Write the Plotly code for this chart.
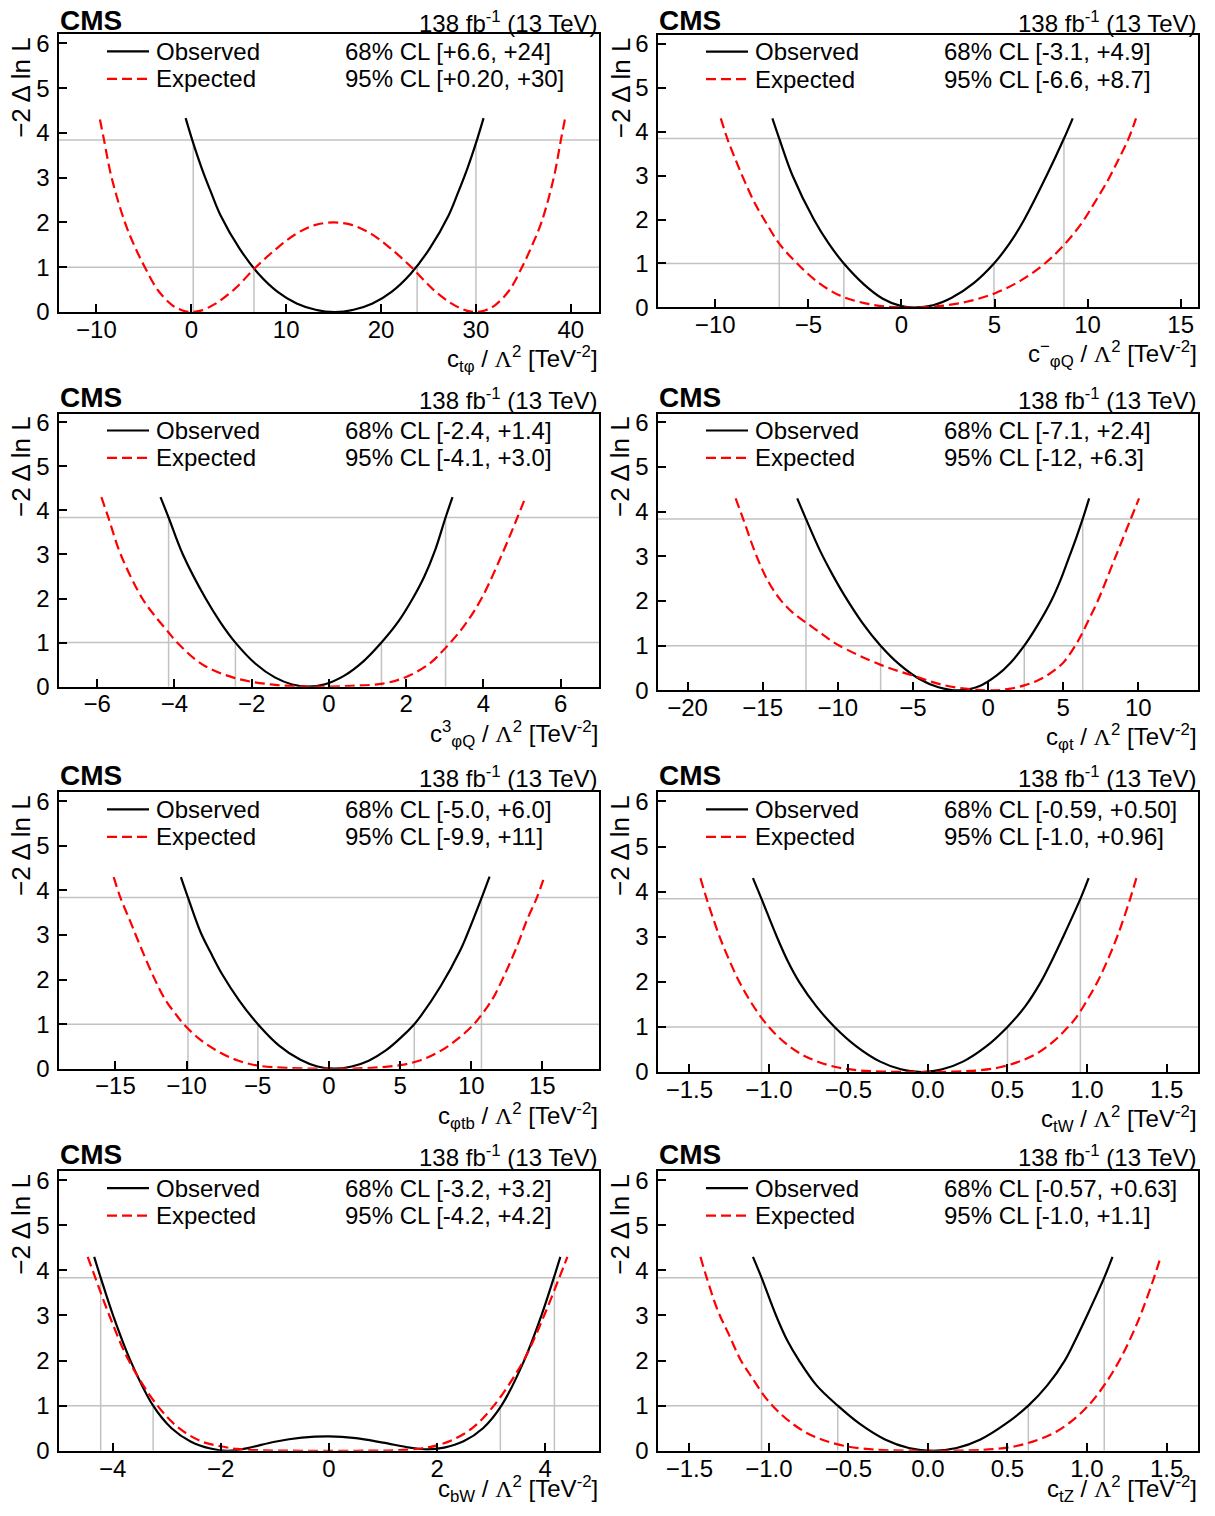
import plotly.graph_objects as go

FIG_W, FIG_H = 1215, 1516

# ---------------- data ----------------
# Panel 1: c_tphi
ctp_obs_x = [-0.6, 0.1, 1.1, 2.1, 3.1, 5.1, 7.1, 9.1, 11.1, 13.1, 15.1,
             17.1, 19.1, 21.1, 23.1, 25.1, 27.1, 28.1, 29.1, 30.1, 30.8]
ctp_obs_y = [4.33, 3.84, 3.21, 2.66, 2.15, 1.41, 0.85, 0.45, 0.19, 0.05, 0.0,
             0.05, 0.19, 0.45, 0.85, 1.41, 2.15, 2.66, 3.21, 3.84, 4.33]
ctp_exp_x = [-9.63, -9.2, -8.4, -7.0, -6.0, -4.9, -3.5, -2.0, -1.0, 0.0, 1.0, 2.5, 4.5, 6.8,
             9.0, 11.0, 13.0, 15.0, 17.0, 19.0, 21.0, 23.2, 25.5, 27.5, 29.0, 30.0, 31.0,
             32.0, 33.5, 34.85, 35.9, 36.9, 38.2, 38.95, 39.37]
ctp_exp_y = [4.3, 3.84, 3.0, 2.0, 1.48, 1.0, 0.48, 0.15, 0.04, 0.0, 0.03, 0.18, 0.5, 1.0,
             1.42, 1.74, 1.94, 2.0, 1.94, 1.74, 1.42, 1.0, 0.5, 0.18, 0.03, 0.0, 0.04,
             0.15, 0.48, 1.0, 1.48, 2.0, 3.0, 3.84, 4.3]
ctp_cl68 = [6.6, 23.8]
ctp_cl95 = [0.2, 30.0]

# Panel 2: c^-_phiQ
cmq_obs_x = [-6.93, -6.56, -5.85, -4.7, -3.9, -3.09, -2.0, -1.0, 0.0, 0.7,
             1.7, 2.7, 3.9, 4.97, 5.8, 6.6, 7.8, 8.73, 9.2]
cmq_obs_y = [4.3, 3.84, 3.0, 2.0, 1.45, 1.0, 0.52, 0.2, 0.03, 0.0,
             0.05, 0.22, 0.56, 1.0, 1.45, 2.0, 3.0, 3.84, 4.3]
cmq_exp_x = [-9.7, -9.35, -8.9, -8.4, -7.85, -7.3, -6.56, -5.6, -4.5, -3.3, -2.0, -0.8, 0.6,
             2.0, 3.5, 5.0, 6.4, 7.7, 8.73, 9.7, 10.4, 11.1, 11.7, 12.2, 12.6]
cmq_exp_y = [4.3, 3.84, 3.35, 2.85, 2.35, 1.95, 1.45, 1.0, 0.58, 0.27, 0.1, 0.02, 0.0,
             0.03, 0.13, 0.32, 0.61, 1.0, 1.42, 1.93, 2.4, 2.9, 3.4, 3.84, 4.3]
cmq_cl68 = [-3.09, 4.97]
cmq_cl95 = [-6.56, 8.73]

# Panel 3: c^3_phiQ
c3q_obs_x = [-4.36, -4.15, -3.78, -3.19, -2.8, -2.42, -1.9, -1.4, -0.95, -0.55,
             -0.1, 0.4, 0.9, 1.36, 1.8, 2.17, 2.47, 2.75, 3.02, 3.2]
c3q_obs_y = [4.3, 3.84, 3.0, 2.0, 1.45, 1.0, 0.52, 0.21, 0.05, 0.0,
             0.055, 0.25, 0.58, 1.0, 1.48, 2.0, 2.5, 3.1, 3.84, 4.3]
c3q_exp_x = [-5.89, -5.71, -5.39, -4.83, -4.5, -4.15, -3.93, -3.27, -2.45, -1.5, -0.45,
             0.6, 1.4, 2.0, 2.6, 3.02, 3.5, 3.95, 4.48, 4.88, 5.09]
c3q_exp_y = [4.3, 3.84, 3.0, 2.0, 1.6, 1.23, 1.0, 0.5, 0.2, 0.05, 0.0,
             0.02, 0.07, 0.22, 0.52, 0.88, 1.38, 2.0, 3.0, 3.84, 4.3]
c3q_cl68 = [-2.42, 1.36]
c3q_cl95 = [-4.15, 3.02]

# Panel 4: c_phit
cpt_obs_x = [-12.7, -12.12, -11.2, -10.4, -9.6, -8.4, -7.15, -5.9, -4.6, -3.3, -1.9,
             -0.6, 0.6, 1.5, 2.41, 3.3, 4.2, 4.8, 5.36, 5.85, 6.3, 6.73]
cpt_obs_y = [4.3, 3.84, 3.14, 2.62, 2.15, 1.53, 1.0, 0.58, 0.26, 0.07, 0.0,
             0.09, 0.34, 0.62, 1.0, 1.46, 2.0, 2.45, 2.95, 3.4, 3.84, 4.3]
cpt_exp_x = [-16.8, -16.3, -15.4, -14.6, -13.8, -13.0, -12.12, -11.0, -10.05, -7.15, -5.0,
             -3.0, -1.0, 0.5, 1.5, 2.41, 3.3, 4.0, 5.0, 5.8, 6.3, 6.8, 7.3, 8.4, 9.5, 10.05]
cpt_exp_y = [4.3, 3.84, 3.0, 2.42, 2.02, 1.74, 1.52, 1.25, 1.03, 0.57, 0.33,
             0.12, 0.02, 0.0, 0.04, 0.11, 0.22, 0.35, 0.62, 1.0, 1.3, 1.65, 2.0, 2.92, 3.84, 4.3]
cpt_cl68 = [-7.15, 2.41]
cpt_cl95 = [-12.12, 6.3]

# Panel 5: c_phitb
ctb_obs_x = [-10.4, -9.9, -9.0, -8.3, -7.5, -6.3, -4.99, -3.5, -2.0, -0.8, 0.4,
             1.6, 2.8, 4.0, 5.0, 6.0, 6.45, 7.85, 9.25, 9.7, 10.75, 11.29]
ctb_obs_y = [4.3, 3.84, 3.05, 2.6, 2.12, 1.53, 1.0, 0.52, 0.2, 0.05, 0.0,
             0.05, 0.18, 0.41, 0.68, 1.0, 1.18, 1.85, 2.67, 3.0, 3.85, 4.31]
ctb_exp_x = [-15.12, -14.65, -13.95, -13.25, -12.3, -11.5, -10.75, -10.2, -9.15, -7.85,
             -6.45, -5.0, -3.0, 0.0, 3.0, 5.0, 6.45, 7.85, 9.14, 10.19, 10.75, 11.47,
             12.29, 13.22, 13.92, 14.63, 15.14]
ctb_exp_y = [4.3, 3.84, 3.3, 2.75, 2.05, 1.55, 1.22, 1.0, 0.68, 0.4,
             0.19, 0.07, 0.02, 0.0, 0.02, 0.08, 0.19, 0.4, 0.69, 1.0, 1.22, 1.55,
             2.07, 2.75, 3.34, 3.85, 4.31]
ctb_cl68 = [-4.99, 6.0]
ctb_cl95 = [-9.9, 10.72]

# Panel 6: c_tW
ctw_obs_x = [-1.10, -1.046, -0.95, -0.88, -0.81, -0.70, -0.587, -0.45, -0.3, -0.17, -0.04,
             0.09, 0.22, 0.36, 0.50, 0.61, 0.71, 0.78, 0.85, 0.958, 1.01]
ctw_obs_y = [4.3, 3.84, 3.0, 2.45, 2.0, 1.45, 1.0, 0.57, 0.23, 0.06, 0.0,
             0.06, 0.23, 0.55, 1.0, 1.45, 2.0, 2.48, 3.0, 3.84, 4.3]
ctw_exp_x = [-1.43, -1.39, -1.32, -1.26, -1.19, -1.12, -1.046, -0.98, -0.9, -0.8, -0.7,
             -0.58, -0.45, -0.3, -0.06, 0.18, 0.33, 0.46, 0.58, 0.68, 0.78, 0.86, 0.93,
             1.0, 1.07, 1.14, 1.2, 1.27, 1.31]
ctw_exp_y = [4.3, 3.83, 3.1, 2.57, 2.03, 1.59, 1.2, 0.92, 0.65, 0.4, 0.24,
             0.11, 0.04, 0.01, 0.0, 0.01, 0.04, 0.11, 0.24, 0.4, 0.65, 0.92, 1.2,
             1.59, 2.03, 2.57, 3.1, 3.83, 4.3]
ctw_cl68 = [-0.587, 0.50]
ctw_cl95 = [-1.046, 0.958]

# Panel 7: c_bW
cbw_obs_x = [-4.34, -4.22, -3.99, -3.67, -3.25, -2.91, -2.55, -2.19, -1.87, -1.5, -1.0, -0.5,
             0.0, 0.5, 1.0, 1.5, 1.81, 2.13, 2.49, 2.85, 3.19, 3.61, 3.93, 4.16, 4.28]
cbw_obs_y = [4.3, 3.84, 3.0, 2.0, 1.0, 0.5, 0.2, 0.05, 0.0, 0.06, 0.2, 0.29,
             0.32, 0.28, 0.18, 0.07, 0.03, 0.07, 0.21, 0.5, 1.0, 2.0, 3.0, 3.84, 4.3]
cbw_exp_x = [-4.46, -4.32, -4.06, -3.7, -3.17, -2.77, -2.34, -2.0, -1.7, -1.2, -0.5,
             0.5, 1.2, 1.7, 2.0, 2.3, 2.65, 3.05, 3.6, 3.98, 4.26, 4.41]
cbw_exp_y = [4.3, 3.84, 3.0, 2.0, 1.0, 0.5, 0.2, 0.1, 0.04, 0.01, 0.0,
             0.0, 0.01, 0.05, 0.12, 0.25, 0.5, 1.0, 2.0, 3.0, 3.84, 4.3]
cbw_cl68 = [-3.25, 3.17]
cbw_cl95 = [-4.22, 4.17]

# Panel 8: c_tZ
ctz_obs_x = [-1.10, -1.046, -0.955, -0.885, -0.81, -0.70, -0.567, -0.43, -0.27, -0.12, 0.03,
             0.18, 0.33, 0.49, 0.631, 0.75, 0.86, 0.93, 1.0, 1.108, 1.16]
ctz_obs_y = [4.3, 3.84, 3.0, 2.45, 2.0, 1.45, 1.0, 0.6, 0.25, 0.06, 0.0,
             0.06, 0.25, 0.6, 1.0, 1.45, 2.0, 2.48, 3.0, 3.84, 4.3]
ctz_exp_x = [-1.43, -1.39, -1.32, -1.25, -1.18, -1.10, -1.026, -0.956, -0.87, -0.765, -0.66,
             -0.53, -0.39, -0.235, 0.02, 0.265, 0.424, 0.562, 0.689, 0.795, 0.901, 0.986,
             1.056, 1.134, 1.208, 1.283, 1.346, 1.42, 1.463]
ctz_exp_y = [4.3, 3.83, 3.1, 2.57, 2.03, 1.59, 1.2, 0.92, 0.65, 0.4, 0.24,
             0.11, 0.04, 0.01, 0.0, 0.01, 0.04, 0.11, 0.24, 0.4, 0.65, 0.92,
             1.2, 1.59, 2.03, 2.57, 3.1, 3.83, 4.3]
ctz_cl68 = [-0.567, 0.631]
ctz_cl95 = [-1.046, 1.108]

# texts
cl68_texts = ["68% CL [+6.6, +24]", "68% CL [-3.1, +4.9]", "68% CL [-2.4, +1.4]", "68% CL [-7.1, +2.4]",
              "68% CL [-5.0, +6.0]", "68% CL [-0.59, +0.50]", "68% CL [-3.2, +3.2]", "68% CL [-0.57, +0.63]"]
cl95_texts = ["95% CL [+0.20, +30]", "95% CL [-6.6, +8.7]", "95% CL [-4.1, +3.0]", "95% CL [-12, +6.3]",
              "95% CL [-9.9, +11]", "95% CL [-1.0, +0.96]", "95% CL [-4.2, +4.2]", "95% CL [-1.0, +1.1]"]
LAM = '<span style="font-family:Liberation Serif">Λ</span>'
UNIT = " / " + LAM + "<sup>2</sup> [TeV<sup>-2</sup>]"
x_titles = [
    "c<sub>tφ</sub>" + UNIT,
    "c<sup>−</sup><sub>φQ</sub>" + UNIT,
    "c<sup>3</sup><sub>φQ</sub>" + UNIT,
    "c<sub>φt</sub>" + UNIT,
    "c<sub>φtb</sub>" + UNIT,
    "c<sub>tW</sub>" + UNIT,
    "c<sub>bW</sub>" + UNIT,
    "c<sub>tZ</sub>" + UNIT,
]
x_ranges = [[-14.0, 43.0], [-13.1, 15.95], [-7.0, 7.0], [-22.0, 14.0],
            [-19.0, 19.0], [-1.7, 1.7], [-5.0, 5.0], [-1.7, 1.7]]
x_tickvals = [[-10, 0, 10, 20, 30, 40], [-10, -5, 0, 5, 10, 15], [-6, -4, -2, 0, 2, 4, 6],
              [-20, -15, -10, -5, 0, 5, 10], [-15, -10, -5, 0, 5, 10, 15],
              [-1.5, -1.0, -0.5, 0.0, 0.5, 1.0, 1.5], [-4, -2, 0, 2, 4],
              [-1.5, -1.0, -0.5, 0.0, 0.5, 1.0, 1.5]]
x_tickformats = ["d", "d", "d", "d", "d", ".1f", "d", ".1f"]
y_tickvals = [0, 1, 2, 3, 4, 5, 6]
y_range = [0, 6.2]
cl_levels = [1.0, 3.84]   # 68% and 95% CL thresholds of -2 Delta ln L

lumi_text = "138 fb<sup>-1</sup> (13 TeV)"
y_title = "−2 Δ ln L"

obs_x = [ctp_obs_x, cmq_obs_x, c3q_obs_x, cpt_obs_x, ctb_obs_x, ctw_obs_x, cbw_obs_x, ctz_obs_x]
obs_y = [ctp_obs_y, cmq_obs_y, c3q_obs_y, cpt_obs_y, ctb_obs_y, ctw_obs_y, cbw_obs_y, ctz_obs_y]
exp_x = [ctp_exp_x, cmq_exp_x, c3q_exp_x, cpt_exp_x, ctb_exp_x, ctw_exp_x, cbw_exp_x, ctz_exp_x]
exp_y = [ctp_exp_y, cmq_exp_y, c3q_exp_y, cpt_exp_y, ctb_exp_y, ctw_exp_y, cbw_exp_y, ctz_exp_y]
cl68 = [ctp_cl68, cmq_cl68, c3q_cl68, cpt_cl68, ctb_cl68, ctw_cl68, cbw_cl68, ctz_cl68]
cl95 = [ctp_cl95, cmq_cl95, c3q_cl95, cpt_cl95, ctb_cl95, ctw_cl95, cbw_cl95, ctz_cl95]

# ---------------- layout geometry (target picture pixels) ----------------
col_px = [(58.5, 599.3), (657.5, 1198.4)]
panel_rows_px = [(33.0, 311.0), (33.3, 306.5), (412.7, 686.3), (412.7, 690.0),
                 (792.3, 1069.0), (792.3, 1072.3), (1171.7, 1451.7), (1171.7, 1451.7)]

# measured vertical placement of the page in the photograph (picture_y = off + scale * page_y)
SHOT_OFF_Y, SHOT_SCALE_Y = 3.5, 0.9898


def page_y(py):
    return (py - SHOT_OFF_Y) / SHOT_SCALE_Y


def px2x(px):
    return px / FIG_W


def py2paper(p):
    return 1.0 - p / FIG_H


def px2y(py):
    return py2paper(page_y(py))


FONT = "Liberation Sans"
GRAY = "#c2c2c2"
RED = "#ff0000"
DASH = "10px,5px"

fig = go.Figure()
annotations = []
shapes = []
layout = dict(
    width=FIG_W, height=FIG_H, autosize=False,
    margin=dict(l=0, r=0, t=0, b=0),
    paper_bgcolor="white", plot_bgcolor="white",
    showlegend=False,
    font=dict(family=FONT, color="black", size=24),
)


def ann(text, xpx, ypx, xanchor="left", yanchor="middle", size=24, pmin=0.0, pmax=FIG_H, **kw):
    p = min(max(page_y(ypx), pmin), pmax)
    d = dict(text=text, xref="paper", yref="paper", x=px2x(xpx), y=py2paper(p),
             xanchor=xanchor, yanchor=yanchor, showarrow=False,
             font=dict(family=FONT, size=size, color="black"))
    d.update(kw)
    annotations.append(d)


for i in range(8):
    n = i + 1
    sx = "" if n == 1 else str(n)
    xa, ya = "x" + sx, "y" + sx
    left, right = col_px[i % 2]
    top, bottom = panel_rows_px[i]

    layout["xaxis" + sx] = dict(
        domain=[px2x(left), px2x(right)], range=x_ranges[i], anchor=ya,
        showline=True, linecolor="black", linewidth=2, mirror=True,
        ticks="inside", ticklen=8, tickwidth=2, tickcolor="black",
        tickvals=x_tickvals[i], tickformat=x_tickformats[i],
        showgrid=False, zeroline=False,
        tickfont=dict(family=FONT, size=24, color="black"),
        ticklabelstandoff=-5,
    )
    layout["yaxis" + sx] = dict(
        domain=[px2y(bottom), px2y(top)], range=y_range, anchor=xa,
        showline=True, linecolor="black", linewidth=2, mirror=True,
        ticks="inside", ticklen=8, tickwidth=2, tickcolor="black",
        tickvals=y_tickvals, showgrid=False, zeroline=False,
        tickfont=dict(family=FONT, size=24, color="black"),
        ticklabelstandoff=2,
    )

    for lev in cl_levels:
        shapes.append(dict(type="line", xref=xa + " domain", yref=ya, x0=0, x1=1, y0=lev, y1=lev,
                           line=dict(color=GRAY, width=1.5), layer="below"))
    for xv in cl68[i]:
        shapes.append(dict(type="line", xref=xa, yref=ya, x0=xv, x1=xv, y0=0, y1=cl_levels[0],
                           line=dict(color=GRAY, width=1.5), layer="below"))
    for xv in cl95[i]:
        shapes.append(dict(type="line", xref=xa, yref=ya, x0=xv, x1=xv, y0=0, y1=cl_levels[1],
                           line=dict(color=GRAY, width=1.5), layer="below"))

    fig.add_trace(go.Scatter(x=obs_x[i], y=obs_y[i], mode="lines", name="Observed",
                             line=dict(color="black", width=2.2, shape="spline", smoothing=1.0),
                             xaxis=xa, yaxis=ya, hoverinfo="skip"))
    fig.add_trace(go.Scatter(x=exp_x[i], y=exp_y[i], mode="lines", name="Expected",
                             line=dict(color=RED, width=2.2, dash=DASH, shape="spline", smoothing=1.0),
                             xaxis=xa, yaxis=ya, hoverinfo="skip"))

    shapes.append(dict(type="line", xref="paper", yref="paper",
                       x0=px2x(left + 48.5), x1=px2x(left + 90.5), y0=px2y(top + 17), y1=px2y(top + 17),
                       line=dict(color="black", width=2.2)))
    shapes.append(dict(type="line", xref="paper", yref="paper",
                       x0=px2x(left + 48.5), x1=px2x(left + 90.5), y0=px2y(top + 44.5), y1=px2y(top + 44.5),
                       line=dict(color=RED, width=2.2, dash=DASH)))

    ann("Observed", left + 95.5, top + 17)
    ann("Expected", left + 95.5, top + 44.5)
    ann(cl68_texts[i], left + 284.5, top + 17)
    ann(cl95_texts[i], left + 284.5, top + 44.5)
    ann("<b>CMS</b>", left - 1, top - 16.5, size=28, pmin=15.5)
    ann(lumi_text, right + 1, top - 15, xanchor="right", size=24, pmin=17.0)
    ann(x_titles[i], right + 1, bottom + 47, xanchor="right", size=24, pmax=1502.0)
    ann(y_title, left - 37, top + 53, xanchor="center", size=26, textangle=-90)

layout["annotations"] = annotations
layout["shapes"] = shapes
fig.update_layout(**layout)

# drop the browser's default 8px page margin so the figure starts at the page origin
fig.write_html("out.html", config={"displayModeBar": False},
               post_script="document.body.style.margin='0px';")
